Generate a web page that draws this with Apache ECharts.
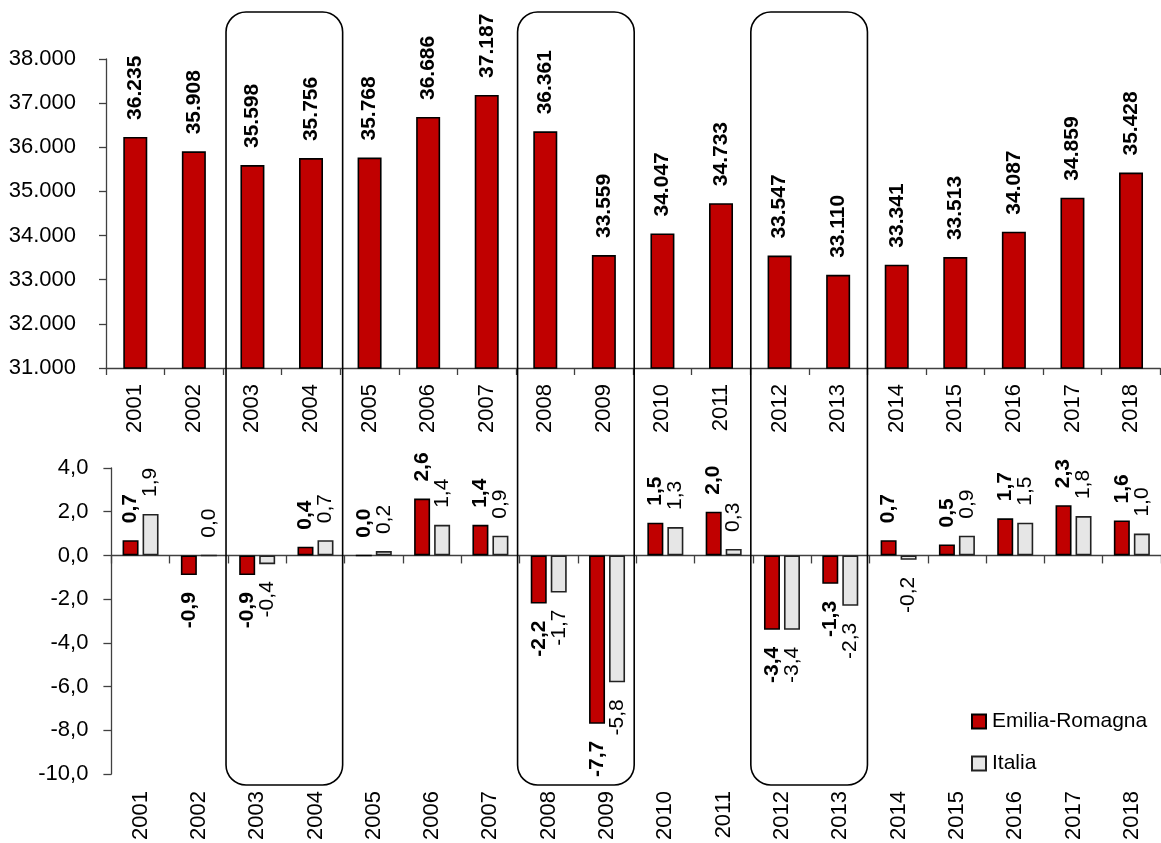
<!DOCTYPE html>
<html>
<head>
<meta charset="utf-8">
<script src="https://cdn.jsdelivr.net/npm/echarts@6/dist/echarts.min.js"></script>
<style>html,body{margin:0;padding:0;background:#fff;}#c{width:1161px;height:843px;}</style>
</head>
<body>
<div id="c"></div>
<script>
const years = ['2001','2002','2003','2004','2005','2006','2007','2008','2009','2010','2011','2012','2013','2014','2015','2016','2017','2018'];
const levelValues = [36235, 35908, 35598, 35756, 35768, 36686, 37187, 36361, 33559, 34047, 34733, 33547, 33110, 33341, 33513, 34087, 34859, 35428];
const emiliaGrowth = [0.7, -0.9, -0.9, 0.4, 0.0, 2.6, 1.4, -2.2, -7.7, 1.5, 2.0, -3.4, -1.3, 0.7, 0.5, 1.7, 2.3, 1.6];
const italiaGrowth = [1.9, 0.0, -0.4, 0.7, 0.2, 1.4, 0.9, -1.7, -5.8, 1.3, 0.3, -3.4, -2.3, -0.2, 0.9, 1.5, 1.8, 1.0];
const highlightedPeriods = [['2003','2004'], ['2008','2009'], ['2012','2013']];

const FONT = "'Liberation Sans', Arial, sans-serif";
const RED = '#C00000';
const GREY = '#E6E6E6';

function fmtThousands(v) {
  return String(Math.round(v)).replace(/\B(?=(\d{3})+(?!\d))/g, '.');
}
function fmtDec(v) {
  return v.toFixed(1).replace('.', ',');
}

function growthData(arr, bold) {
  return arr.map(v => {
    const neg = v < 0;
    return {
      value: v,
      label: {
        show: true,
        position: neg ? 'bottom' : 'top',
        rotate: 90,
        align: neg ? 'right' : 'left',
        verticalAlign: 'middle',
        distance: 17,
        fontSize: 21,
        fontWeight: bold ? 'bold' : 'normal',
        fontFamily: FONT,
        color: '#000',
        formatter: p => fmtDec(p.value)
      }
    };
  });
}

const chart = echarts.init(document.getElementById('c'));
const axisLineStyle = { color: '#404040', width: 1.3 };

chart.setOption({
  animation: false,
  backgroundColor: '#fff',
  textStyle: { fontFamily: FONT },
  grid: [
    { left: 106, right: 0.7, top: 59, bottom: 475, containLabel: false },
    { left: 111.4, right: -5.2, top: 468, bottom: 66, containLabel: false }
  ],
  legend: {
    orient: 'vertical',
    left: 966,
    top: 706,
    itemWidth: 14,
    itemHeight: 14,
    itemGap: 21,
    icon: 'rect',
    textStyle: { fontSize: 21, color: '#000', fontFamily: FONT, padding: [0, 0, 0, 1] },
    data: ['Emilia-Romagna', 'Italia']
  },
  xAxis: [
    {
      gridIndex: 0, type: 'category', data: years,
      axisLine: { show: true, lineStyle: axisLineStyle },
      axisTick: { show: true, length: 7, lineStyle: axisLineStyle },
      axisLabel: { rotate: 90, fontSize: 22, color: '#000', margin: 16, fontFamily: FONT }
    },
    {
      gridIndex: 1, type: 'category', data: years, position: 'bottom',
      axisLine: { show: false, onZero: false },
      axisTick: { show: false },
      axisLabel: { rotate: 90, fontSize: 22, color: '#000', margin: 17, fontFamily: FONT }
    },
    {
      gridIndex: 1, type: 'category', data: years, position: 'top',
      axisLine: { show: true, onZero: true, lineStyle: axisLineStyle },
      axisTick: { show: true, inside: true, length: 8, lineStyle: axisLineStyle },
      axisLabel: { show: false }
    }
  ],
  yAxis: [
    {
      gridIndex: 0, type: 'value', min: 31000, max: 38000, interval: 1000,
      splitLine: { show: false },
      axisLine: { show: true, lineStyle: axisLineStyle },
      axisTick: { show: true, length: 7, lineStyle: axisLineStyle },
      axisLabel: { fontSize: 22, color: '#000', margin: 30, fontFamily: FONT, formatter: v => fmtThousands(v) }
    },
    {
      gridIndex: 1, type: 'value', min: -10, max: 4, interval: 2,
      splitLine: { show: false },
      axisLine: { show: true, lineStyle: axisLineStyle },
      axisTick: { show: true, length: 8, lineStyle: axisLineStyle },
      axisLabel: { fontSize: 22, color: '#000', margin: 23, fontFamily: FONT, formatter: v => fmtDec(v) }
    }
  ],
  series: [
    {
      name: 'Livello', type: 'bar', xAxisIndex: 0, yAxisIndex: 0,
      data: levelValues,
      barWidth: 24,
      itemStyle: { color: RED, borderColor: '#000', borderWidth: 1.6 },
      label: {
        show: true, position: 'top', rotate: 90, align: 'left', verticalAlign: 'middle',
        distance: 17, fontSize: 21, fontWeight: 'bold', color: '#000', fontFamily: FONT,
        formatter: p => fmtThousands(p.value)
      }
    },
    {
      name: 'Emilia-Romagna', type: 'bar', xAxisIndex: 1, yAxisIndex: 1,
      data: growthData(emiliaGrowth, true),
      barWidth: 16, barGap: '25%',
      itemStyle: { color: RED, borderColor: '#000', borderWidth: 1.6 }
    },
    {
      name: 'Italia', type: 'bar', xAxisIndex: 1, yAxisIndex: 1,
      data: growthData(italiaGrowth, false),
      barWidth: 16, barGap: '25%',
      itemStyle: { color: GREY, borderColor: '#222', borderWidth: 1.6 }
    }
  ]
});

// rounded boxes around highlighted periods, positioned through the axis scale
const boxes = highlightedPeriods.map(([a, b]) => {
  const ca = chart.convertToPixel({ xAxisIndex: 2 }, a);
  const cb = chart.convertToPixel({ xAxisIndex: 2 }, b);
  const w = cb - ca;
  const x0 = ca - w / 2 - 2;
  const x1 = cb + w / 2 - 2;
  return {
    type: 'rect',
    shape: { x: x0, y: 12, width: x1 - x0, height: 773, r: 20 },
    style: { fill: 'none', stroke: '#000', lineWidth: 1.6 },
    z: 10
  };
});
chart.setOption({ graphic: boxes });
</script>
</body>
</html>
